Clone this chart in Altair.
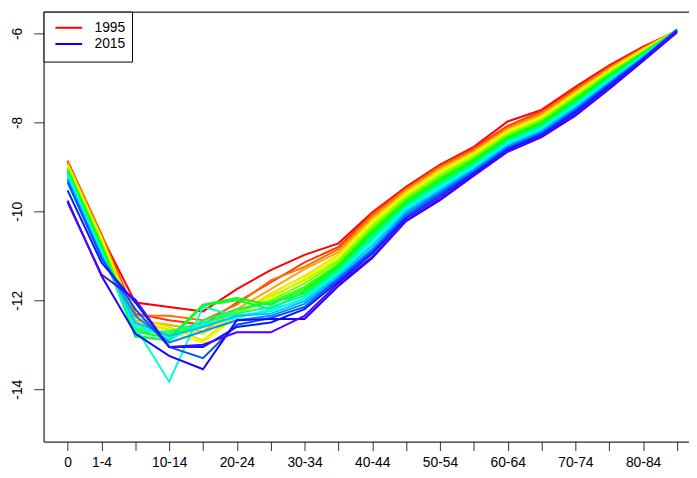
import colorsys
import altair as alt
import pandas as pd

years = list(range(1995, 2016))
age_labels = ["0", "1-4", "5-9", "10-14", "15-19", "20-24", "25-29", "30-34",
              "35-39", "40-44", "45-49", "50-54", "55-59", "60-64", "65-69",
              "70-74", "75-79", "80-84", "85+"]
shown_labels = ["0", "1-4", "10-14", "20-24", "30-34", "40-44", "50-54",
                "60-64", "70-74", "80-84"]
y_ticks = [-14, -12, -10, -8, -6]
legend_years = ["1995", "2015"]

# log death rates, one list per age group, values for 1995..2015
age_0 = [-8.90, -8.86, -8.88, -8.92, -8.95, -8.98, -9.00, -9.03, -9.06, -9.08, -9.10,
         -9.13, -9.15, -9.18, -9.22, -9.27, -9.30, -9.35, -9.53, -9.76, -9.80]
age_1_4 = [-10.55, -10.52, -10.55, -10.58, -10.60, -10.63, -10.68, -10.72, -10.75, -10.78, -10.82,
           -10.85, -10.88, -10.90, -10.95, -10.98, -11.02, -11.05, -11.15, -11.45, -11.42]
age_5_9 = [-12.05, -12.30, -12.35, -12.45, -12.40, -12.55, -12.50, -12.60, -12.65, -12.70, -12.80,
           -12.82, -12.72, -12.60, -12.55, -12.50, -12.35, -12.20, -12.05, -12.75, -11.98]
age_10_14 = [-12.15, -12.45, -12.35, -12.55, -12.60, -12.70, -12.65, -12.80, -12.75, -12.85, -12.90,
             -12.90, -12.70, -13.83, -12.85, -12.80, -12.95, -13.05, -13.05, -13.25, -13.05]
age_15_19 = [-12.25, -12.55, -12.45, -12.70, -12.90, -12.95, -12.75, -12.60, -12.55, -12.10, -12.12,
             -12.45, -12.50, -12.15, -12.55, -12.60, -12.70, -13.30, -13.05, -13.55, -13.00]
age_20_24 = [-11.75, -12.05, -12.10, -12.20, -12.30, -12.35, -12.30, -12.25, -12.20, -11.95, -12.00,
             -12.20, -12.30, -12.35, -12.40, -12.35, -12.45, -12.55, -12.60, -12.45, -12.72]
age_25_29 = [-11.32, -11.60, -11.55, -11.75, -11.85, -11.95, -11.90, -12.00, -12.05, -12.10, -12.20,
             -12.05, -12.15, -12.25, -12.20, -12.30, -12.35, -12.40, -12.50, -12.42, -12.72]
age_30_34 = [-10.98, -11.15, -11.25, -11.30, -11.45, -11.50, -11.55, -11.62, -11.70, -11.75, -11.80,
             -11.85, -11.90, -11.95, -12.00, -12.02, -12.08, -12.15, -12.20, -12.42, -12.35]
age_35_39 = [-10.72, -10.80, -10.85, -10.92, -10.98, -11.02, -11.08, -11.12, -11.18, -11.22, -11.25,
             -11.30, -11.35, -11.38, -11.42, -11.45, -11.50, -11.52, -11.58, -11.68, -11.62]
age_40_44 = [-10.02, -10.05, -10.10, -10.15, -10.20, -10.25, -10.30, -10.35, -10.40, -10.45, -10.50,
             -10.55, -10.60, -10.65, -10.72, -10.78, -10.85, -10.90, -10.95, -11.05, -11.02]
age_45_49 = [-9.45, -9.48, -9.50, -9.55, -9.58, -9.62, -9.66, -9.70, -9.74, -9.78, -9.82,
             -9.85, -9.88, -9.92, -9.96, -10.00, -10.05, -10.10, -10.15, -10.22, -10.20]
age_50_54 = [-8.95, -8.97, -9.00, -9.05, -9.08, -9.12, -9.15, -9.20, -9.24, -9.28, -9.32,
             -9.36, -9.40, -9.44, -9.48, -9.52, -9.56, -9.60, -9.65, -9.75, -9.70]
age_55_59 = [-8.55, -8.58, -8.62, -8.65, -8.68, -8.72, -8.75, -8.78, -8.82, -8.85, -8.88,
             -8.92, -8.95, -8.98, -9.02, -9.05, -9.08, -9.12, -9.15, -9.20, -9.18]
age_60_64 = [-7.98, -8.08, -8.12, -8.15, -8.18, -8.22, -8.25, -8.28, -8.31, -8.34, -8.37,
             -8.40, -8.43, -8.46, -8.49, -8.52, -8.55, -8.58, -8.61, -8.66, -8.64]
age_65_69 = [-7.72, -7.75, -7.80, -7.83, -7.86, -7.89, -7.92, -7.95, -7.98, -8.01, -8.04,
             -8.07, -8.10, -8.13, -8.16, -8.19, -8.22, -8.25, -8.28, -8.33, -8.31]
age_70_74 = [-7.20, -7.24, -7.28, -7.31, -7.34, -7.37, -7.40, -7.43, -7.46, -7.49, -7.52,
             -7.55, -7.58, -7.61, -7.64, -7.67, -7.70, -7.73, -7.77, -7.85, -7.82]
age_75_79 = [-6.72, -6.75, -6.77, -6.80, -6.82, -6.85, -6.87, -6.90, -6.92, -6.95, -6.97,
             -7.00, -7.02, -7.05, -7.07, -7.10, -7.12, -7.15, -7.18, -7.25, -7.22]
age_80_84 = [-6.30, -6.32, -6.33, -6.35, -6.36, -6.38, -6.40, -6.41, -6.43, -6.44, -6.46,
             -6.47, -6.49, -6.50, -6.52, -6.53, -6.55, -6.56, -6.58, -6.62, -6.60]
age_85 = [-5.95, -5.93, -5.94, -5.92, -5.93, -5.94, -5.92, -5.95, -5.93, -5.96, -5.94,
          -5.95, -5.92, -5.94, -5.96, -5.93, -5.91, -5.92, -5.95, -5.98, -5.97]

columns = [age_0, age_1_4, age_5_9, age_10_14, age_15_19, age_20_24, age_25_29,
           age_30_34, age_35_39, age_40_44, age_45_49, age_50_54, age_55_59,
           age_60_64, age_65_69, age_70_74, age_75_79, age_80_84, age_85]

rows = []
for yr_i, yr in enumerate(years):
    for a, col in enumerate(columns):
        rows.append({"age": a, "year": yr, "rate": col[yr_i]})
df = pd.DataFrame(rows)

# rainbow palette red -> violet-blue (R rainbow style)
n = len(years)
HUE_END = 0.72
colors = []
for k in range(n):
    r, g, b = colorsys.hsv_to_rgb(HUE_END * k / (n - 1), 1, 1)
    colors.append("#%02x%02x%02x" % (round(r * 255), round(g * 255), round(b * 255)))

W, H = 653, 435
FONT = "Liberation Sans"

label_js = "[" + ",".join("'%s'" % (l if l in shown_labels else "") for l in age_labels) + "]"

lines = alt.Chart(df).mark_line(strokeWidth=2, clip=True).encode(
    x=alt.X("age:Q",
            scale=alt.Scale(domain=[-0.7095, 18.356], nice=False, zero=False),
            axis=alt.Axis(values=list(range(len(age_labels))), labelExpr=label_js + "[datum.value]",
                          title=None, grid=False, tickSize=9, labelPadding=5,
                          labelOverlap=False, labelFlush=False, domainColor="black",
                          tickColor="#333333", labelColor="black", labelFontSize=14,
                          labelFont=FONT, labelBaseline="top")),
    y=alt.Y("rate:Q",
            scale=alt.Scale(domain=[-15.178, -5.511], nice=False, zero=False),
            axis=alt.Axis(values=y_ticks, labelExpr="'' + datum.value", title=None,
                          grid=False, tickSize=10, labelPadding=16, labelAngle=-90,
                          labelAlign="center", labelBaseline="middle",
                          domainColor="black", tickColor="#333333", labelColor="black",
                          labelFontSize=14, labelFont=FONT)),
    color=alt.Color("year:N", scale=alt.Scale(domain=years, range=colors), legend=None),
)

one = alt.Data(values=[{}])
top_border = alt.Chart(one).mark_rule(color="black", strokeWidth=1).encode(
    x=alt.value(0), x2=alt.value(W), y=alt.value(0.5))

legend_box = alt.Chart(one).mark_rect(fill="white", stroke="black", strokeWidth=1).encode(
    x=alt.value(0.5), x2=alt.value(90), y=alt.value(0.5), y2=alt.value(51))
leg_red = alt.Chart(one).mark_rule(color="#ff0000", strokeWidth=2).encode(
    x=alt.value(12), x2=alt.value(39), y=alt.value(16.3))
leg_blue = alt.Chart(one).mark_rule(color="#0000ff", strokeWidth=2).encode(
    x=alt.value(12), x2=alt.value(39), y=alt.value(32.7))
leg_t1 = alt.Chart(one).mark_text(align="left", baseline="middle", fontSize=14, font=FONT,
                                  color="black", text=legend_years[0]).encode(
    x=alt.value(51.5), y=alt.value(16.8))
leg_t2 = alt.Chart(one).mark_text(align="left", baseline="middle", fontSize=14, font=FONT,
                                  color="black", text=legend_years[1]).encode(
    x=alt.value(51.5), y=alt.value(33.2))

chart = alt.layer(lines, top_border, legend_box, leg_red, leg_blue, leg_t1, leg_t2).properties(
    width=W, height=H,
    autosize=alt.AutoSizeParams(type="none"),
    padding={"left": 36, "top": 1, "right": 0, "bottom": 25},
).configure_view(stroke=None).configure(background="white")

chart.save("out.html", embed_options={"renderer": "svg", "actions": False})
